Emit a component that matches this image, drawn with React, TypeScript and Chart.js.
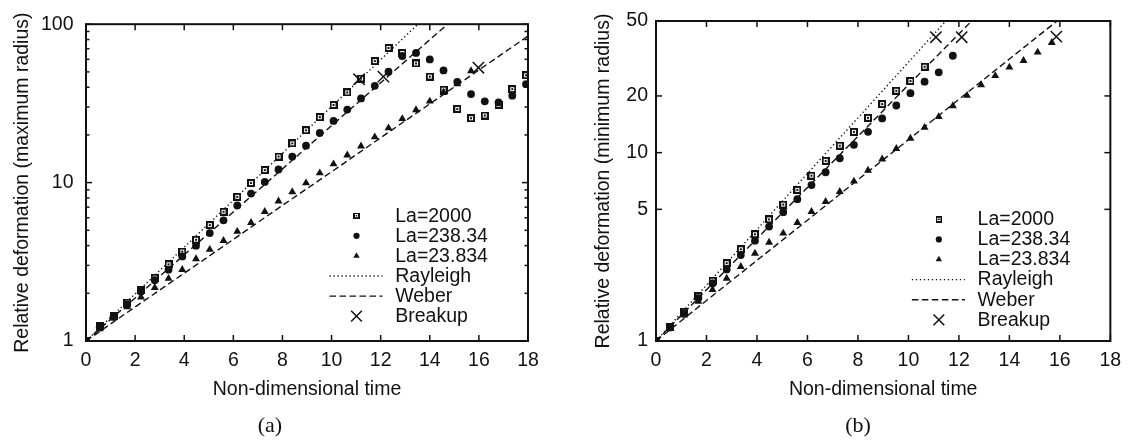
import React, { useEffect, useRef } from "react";
import { Chart, registerables } from "chart.js";

Chart.register(...registerables);

const FONT = "'Liberation Sans', Arial, sans-serif";
const FS = 19.5;
const INK = "#111";

// ---------- data ----------
const timeA = [0, 0.56, 1.12, 1.68, 2.24, 2.8, 3.36, 3.92, 4.48, 5.04, 5.6, 6.16, 6.72, 7.28, 7.84, 8.4, 8.96, 9.52, 10.08, 10.64, 11.2, 11.76, 12.32, 12.88, 13.44, 14.0, 14.56, 15.12, 15.68, 16.24, 16.8, 17.36, 17.92];

// (a) maximum radius
const maxLa2000 = [1, 1.24, 1.44, 1.75, 2.1, 2.51, 3.05, 3.67, 4.36, 5.39, 6.55, 8.13, 9.94, 12.0, 14.6, 17.7, 21.4, 25.9, 30.9, 37.1, 45.4, 58.5, 70.8, 65.9, 56.5, 46.7, 38.6, 29.2, 25.5, 26.5, 31.0, 38.9, 47.6];
const maxLa238 = [1, 1.22, 1.42, 1.7, 2.05, 2.42, 2.82, 3.42, 4.0, 4.8, 5.78, 7.18, 8.53, 10.1, 12.1, 14.6, 17.1, 20.6, 24.5, 28.9, 34.0, 40.8, 50.1, 62.9, 65.9, 59.9, 51.1, 43.3, 36.2, 32.6, 32.1, 35.4, 41.8];
const maxLa23 = [1, 1.19, 1.4, 1.64, 1.89, 2.17, 2.48, 2.82, 3.3, 3.78, 4.3, 4.91, 5.59, 6.55, 7.64, 8.73, 9.94, 11.5, 13.1, 14.9, 17.0, 19.4, 22.1, 25.3, 28.8, 32.6, 37.0, 42.0, 50.7];
const breakTimeA = [11.12, 12.11, 15.98];
const breakValA = [44.9, 46.7, 53.1];

// (b) minimum radius
const minLa2000 = [1, 1.19, 1.43, 1.73, 2.09, 2.59, 3.07, 3.69, 4.42, 5.3, 6.34, 7.55, 9.05, 10.9, 12.9, 15.3, 18.1, 21.3, 24.0, 28.6];
const minLa238 = [1, 1.18, 1.4, 1.69, 2.02, 2.4, 2.86, 3.41, 4.05, 4.83, 5.66, 6.73, 7.87, 9.34, 11.0, 12.9, 15.2, 17.8, 20.7, 23.8, 26.7, 32.7];
const minLa23 = [1, 1.17, 1.37, 1.62, 1.87, 2.15, 2.48, 2.92, 3.34, 3.73, 4.25, 4.86, 5.49, 6.21, 7.05, 8.05, 9.23, 10.5, 11.9, 13.6, 15.5, 17.7, 20.1, 22.9, 25.6, 28.4, 30.8, 34.1, 38.4];
const breakTimeB = [11.09, 12.11, 15.86];
const breakValB = [41.0, 41.0, 41.3];

// model curves
const modelTime = [0, 2, 4, 6, 8, 10, 12, 14, 16, 18];
const rayleigh = [1, 1.98, 3.91, 7.75, 15.3, 30.2, 59.7, 118, 233, 461];
const weberHigh = [1, 1.87, 3.5, 6.53, 12.2, 22.9, 42.7, 79.8, 149, 279];
const weberLow = [1, 1.64, 2.68, 4.38, 7.18, 11.7, 19.2, 31.4, 51.4, 84.1];

// ticks and labels
const xTickValues = [0, 2, 4, 6, 8, 10, 12, 14, 16, 18];
const xTickLabels = ["0", "2", "4", "6", "8", "10", "12", "14", "16", "18"];
const yTickA = [1, 10, 100];
const yTickLabelsA = ["1", "10", "100"];
const yMinorA = [2, 3, 4, 5, 6, 7, 8, 9, 20, 30, 40, 50, 60, 70, 80, 90];
const yTickB = [1, 5, 10, 20, 50];
const yTickLabelsB = ["1", "5", "10", "20", "50"];
const legendLabels = ["La=2000", "La=238.34", "La=23.834", "Rayleigh", "Weber", "Breakup"];

// ---------- drawing helpers ----------
function makeSquareImg(size: number) {
  const c = document.createElement("canvas");
  c.width = size;
  c.height = size;
  const g = c.getContext("2d")!;
  g.fillStyle = INK;
  g.fillRect(0, 0, size, size);
  g.fillStyle = "#fff";
  g.fillRect(2, 2, size - 4, size - 4);
  g.fillStyle = INK;
  g.fillRect(3, 3, 2, size - 6);
  g.fillRect(3, 3, size - 6, 1.2);
  return c;
}

function drawMarker(ctx: CanvasRenderingContext2D, style: any, x: number, y: number, r: number) {
  ctx.fillStyle = INK;
  ctx.strokeStyle = INK;
  if (style && typeof style === "object") {
    const w = style.width * 0.8, h = style.height * 0.8;
    ctx.drawImage(style, x - w / 2, y - h / 2, w, h);
  } else if (style === "circle") {
    ctx.beginPath();
    ctx.arc(x, y, r, 0, Math.PI * 2);
    ctx.fill();
  } else if (style === "triangle") {
    ctx.beginPath();
    for (let k = 0; k < 3; k++) {
      const a = -Math.PI / 2 + (k * 2 * Math.PI) / 3;
      const px = x + Math.cos(a) * r, py = y + Math.sin(a) * r;
      if (k === 0) ctx.moveTo(px, py); else ctx.lineTo(px, py);
    }
    ctx.closePath();
    ctx.fill();
  } else if (style === "crossRot") {
    const d = r * Math.SQRT1_2;
    ctx.lineWidth = 1.5;
    ctx.beginPath();
    ctx.moveTo(x - d, y - d); ctx.lineTo(x + d, y + d);
    ctx.moveTo(x - d, y + d); ctx.lineTo(x + d, y - d);
    ctx.stroke();
  }
}

const framePlugin = {
  id: "frame",
  afterDatasetsDraw(chart: any, _args: any, opts: any) {
    const { ctx, chartArea } = chart;
    const { left, right, top, bottom } = chartArea;
    const xs = chart.scales.x, ys = chart.scales.y;
    ctx.save();
    ctx.strokeStyle = INK;
    ctx.lineWidth = 1.5;
    const seg = (x1: number, y1: number, x2: number, y2: number) => {
      ctx.beginPath(); ctx.moveTo(x1, y1); ctx.lineTo(x2, y2); ctx.stroke();
    };
    for (const v of opts.xTicks) {
      const px = xs.getPixelForValue(v);
      seg(px, bottom, px, bottom - 6);
      seg(px, top, px, top + 6);
    }
    for (const v of opts.yMajor) {
      const py = ys.getPixelForValue(v);
      seg(left, py, left + 6, py);
      seg(right, py, right - 6, py);
    }
    for (const v of opts.yMinor) {
      const py = ys.getPixelForValue(v);
      seg(left, py, left + 3.5, py);
      seg(right, py, right - 3.5, py);
    }
    ctx.lineWidth = 2;
    ctx.strokeRect(left, top, right - left, bottom - top);

    // legend
    const ds = chart.data.datasets;
    const order = [3, 4, 5, 0, 1, 6];
    const markerX = right - 171.5;
    const lineX1 = right - 198.5;
    const lineX2 = right - 145.5;
    const textX = right - 132.8;
    ctx.font = `${FS}px ${FONT}`;
    ctx.textBaseline = "middle";
    ctx.textAlign = "left";
    order.forEach((di, k) => {
      const d = ds[di];
      const y = opts.legendY + k * 20.1;
      if (d.showLine) {
        ctx.save();
        ctx.strokeStyle = INK;
        ctx.lineWidth = d.borderWidth;
        ctx.setLineDash(d.borderDash);
        seg(lineX1, y, lineX2, y);
        ctx.restore();
      } else {
        drawMarker(ctx, d.pointStyle, markerX, y, d.pointRadius * (d.pointStyle === "crossRot" ? 0.95 : 0.8));
      }
      ctx.fillStyle = INK;
      ctx.fillText(legendLabels[k], textX, y + 0.5);
    });
    ctx.restore();
  },
};

function buildConfig(p: any) {
  const sq = makeSquareImg(8);
  const pts = (t: number[], v: number[]) => v.map((y, i) => ({ x: t[i], y }));
  const lineDs = (data: number[], dash: number[]) => ({
    data: pts(modelTime, data),
    showLine: true,
    borderColor: INK,
    borderWidth: 1.4,
    borderDash: dash,
    pointRadius: 0,
    fill: false,
    order: 10,
  });
  const datasets: any[] = [
    { label: "Rayleigh", ...lineDs(rayleigh, [1.3, 2.7]) },
    { label: "Weber", ...lineDs(weberHigh, [6.5, 3.5]) },
    { label: "Weber low", ...lineDs(weberLow, [6.5, 3.5]) },
    { label: "La=2000", data: pts(timeA, p.s1), showLine: false, pointStyle: sq, pointRadius: 4, order: 3 },
    { label: "La=238.34", data: pts(timeA, p.s2), showLine: false, pointStyle: "circle", pointRadius: 3.9, backgroundColor: INK, borderColor: INK, borderWidth: 0, order: 2 },
    { label: "La=23.834", data: pts(timeA, p.s3), showLine: false, pointStyle: "triangle", pointRadius: 4.6, backgroundColor: INK, borderColor: INK, borderWidth: 0, order: 1 },
    { label: "Breakup", data: pts(p.bt, p.bv), showLine: false, pointStyle: "crossRot", pointRadius: 8, backgroundColor: INK, borderColor: INK, borderWidth: 1.5, order: 0 },
  ];
  const font = { family: FONT, size: FS };
  return {
    type: "scatter",
    data: { datasets },
    plugins: [framePlugin],
    options: {
      animation: false,
      responsive: false,
      events: [],
      layout: { padding: { top: 21, right: p.padRight, bottom: 0, left: 0 } },
      plugins: {
        legend: { display: false },
        tooltip: { enabled: false },
        frame: { xTicks: xTickValues, yMajor: p.yTicks, yMinor: p.yMinor, legendY: p.legendY },
      },
      scales: {
        x: {
          type: "linear",
          min: 0,
          max: 18,
          afterBuildTicks: (s: any) => { s.ticks = xTickValues.map((v) => ({ value: v })); },
          afterFit: (s: any) => { s.height = 104; },
          ticks: { autoSkip: false, maxRotation: 0, padding: 7.8, font, color: INK, callback: (_v: any, i: number) => xTickLabels[i] },
          grid: { display: false, drawTicks: false },
          border: { display: false },
          title: { display: true, text: "Non-dimensional time", font, color: INK, padding: { top: 0, bottom: 43.4 } },
        },
        y: {
          type: "logarithmic",
          min: 1,
          max: p.yMax,
          afterBuildTicks: (s: any) => { s.ticks = p.yTicks.map((v: number) => ({ value: v })); },
          afterFit: (s: any) => { s.width = p.yWidth; },
          ticks: { autoSkip: false, padding: p.yPad, font, color: INK, callback: (_v: any, i: number) => p.yLabels[i] },
          grid: { display: false, drawTicks: false },
          border: { display: false },
          title: { display: true, text: p.yTitle, font, color: INK, padding: { top: p.yTitlePad, bottom: 0 } },
        },
      },
    },
  };
}

function Panel({ params, left, width }: any) {
  const ref = useRef<HTMLCanvasElement>(null);
  useEffect(() => {
    const chart = new Chart(ref.current as HTMLCanvasElement, buildConfig(params) as any);
    return () => chart.destroy();
  }, []);
  return (
    <canvas
      ref={ref}
      width={width}
      height={445}
      style={{ position: "absolute", left, top: 0, width, height: 445, display: "block" }}
    />
  );
}

const paramsA = {
  s1: maxLa2000, s2: maxLa238, s3: maxLa23, bt: breakTimeA, bv: breakValA,
  yMax: 100, yTicks: yTickA, yLabels: yTickLabelsA, yMinor: yMinorA,
  yTitle: "Relative deformation (maximum radius)",
  yWidth: 86, yPad: 12.5, yTitlePad: 10.8, padRight: 36, legendY: 215.7,
};
const paramsB = {
  s1: minLa2000, s2: minLa238, s3: minLa23, bt: breakTimeB, bv: breakValB,
  yMax: 50, yTicks: yTickB, yLabels: yTickLabelsB, yMinor: [],
  yTitle: "Relative deformation (minimum radius)",
  yWidth: 92, yPad: 8, yTitlePad: 27.5, padRight: 18, legendY: 219.3,
};

export default function App() {
  const cap: any = {
    position: "absolute",
    top: 411,
    width: 80,
    height: 28,
    lineHeight: "28px",
    textAlign: "center",
    fontFamily: "'Liberation Serif', 'DejaVu Serif', serif",
    fontSize: 22,
    color: INK,
  };
  return (
    <div style={{ position: "fixed", left: 0, top: 0, width: 1129, height: 445, background: "#fff", overflow: "hidden" }}>
      <Panel params={paramsA} left={0} width={564} />
      <Panel params={paramsB} left={564} width={565} />
      <div style={{ ...cap, left: 270 - 40 }}>(a)</div>
      <div style={{ ...cap, left: 858 - 40 }}>(b)</div>
    </div>
  );
}
